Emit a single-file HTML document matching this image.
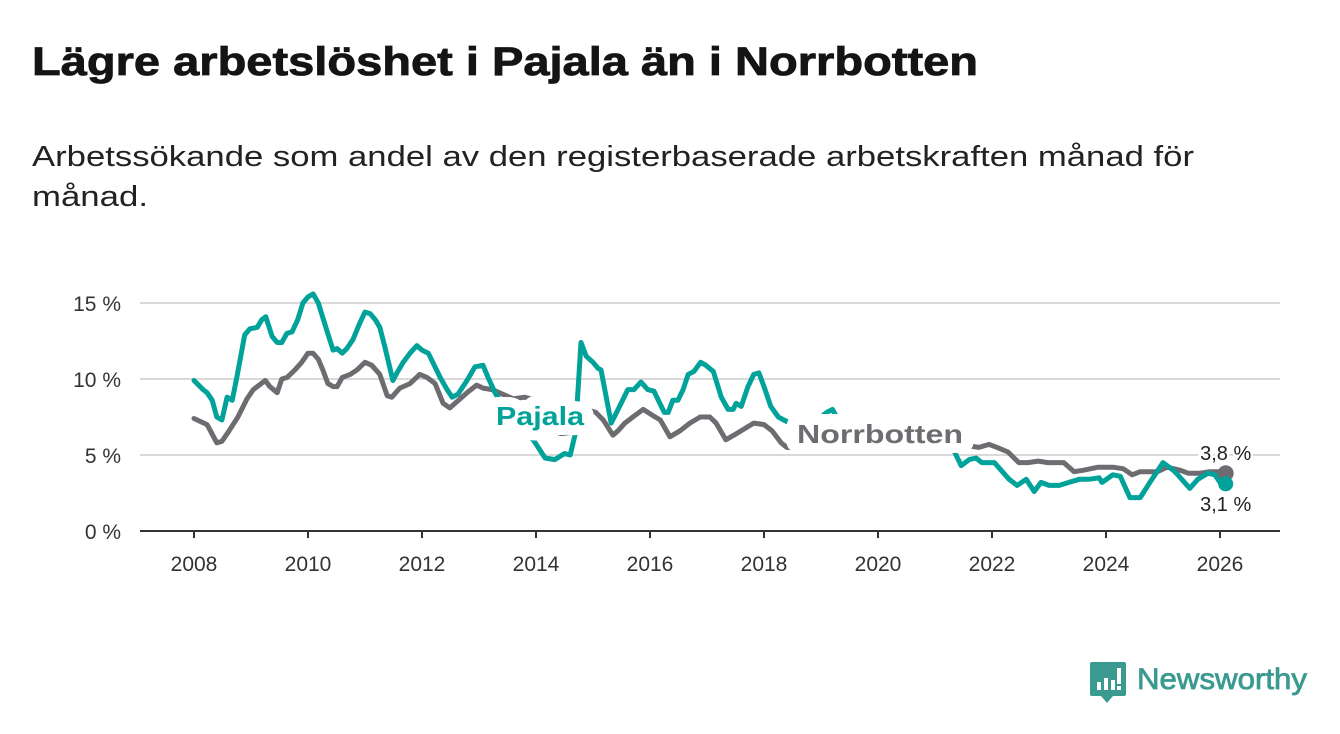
<!DOCTYPE html>
<html><head><meta charset="utf-8">
<style>
html,body{margin:0;padding:0;background:#fff;}
svg{display:block;font-family:"Liberation Sans",sans-serif;}
</style></head>
<body>
<svg id="chart" width="1340" height="734" viewBox="0 0 1340 734" xmlns="http://www.w3.org/2000/svg">
<text x="32" y="75" font-size="40" font-weight="bold" fill="#141414" stroke="#141414" stroke-width="0.8" textLength="946" lengthAdjust="spacingAndGlyphs">Lägre arbetslöshet i Pajala än i Norrbotten</text>
<text x="32" y="166" font-size="29" fill="#222" textLength="1162" lengthAdjust="spacingAndGlyphs">Arbetssökande som andel av den registerbaserade arbetskraften månad för</text>
<text x="32" y="206" font-size="29" fill="#222" textLength="116" lengthAdjust="spacingAndGlyphs">månad.</text>
<g id="grid"></g>
<g id="xaxis"></g>
<g id="yaxis"></g>
<g id="series"></g>
<g id="labels"></g>
<g>
  <path d="M1092 662 h32 a2 2 0 0 1 2 2 v30 a2 2 0 0 1 -2 2 h-11 l-6 7 l-6 -7 h-9 a2 2 0 0 1 -2 -2 v-30 a2 2 0 0 1 2 -2z" fill="#3a9a8f"/>
  <rect x="1097" y="682" width="4" height="8" fill="#fff"/>
  <rect x="1104" y="678" width="4" height="12" fill="#fff"/>
  <rect x="1111" y="680" width="4" height="10" fill="#fff"/>
  <rect x="1117" y="668" width="4" height="16" fill="#fff"/>
  <rect x="1117" y="686" width="4" height="4" fill="#fff"/>
  <text x="1137" y="689" font-size="30" fill="#3a9a8f" stroke="#3a9a8f" stroke-width="0.8" textLength="170" lengthAdjust="spacingAndGlyphs">Newsworthy</text>
</g>
</svg>
<script>
const yTicks = [0, 5, 10, 15];
const yTickLabels = ["0 %", "5 %", "10 %", "15 %"];
const xTicks = [2008, 2010, 2012, 2014, 2016, 2018, 2020, 2022, 2024, 2026];
const pajalaYears = [2008.0,2008.16,2008.23,2008.32,2008.40,2008.49,2008.58,2008.67,2008.75,2008.89,2008.98,2009.11,2009.19,2009.26,2009.37,2009.46,2009.54,2009.63,2009.72,2009.82,2009.91,2010.0,2010.09,2010.18,2010.33,2010.44,2010.51,2010.6,2010.68,2010.79,2010.91,2011.0,2011.09,2011.18,2011.26,2011.35,2011.49,2011.56,2011.67,2011.79,2011.91,2012.0,2012.11,2012.19,2012.32,2012.44,2012.53,2012.63,2012.79,2012.93,2013.07,2013.16,2013.28,2013.54,2013.95,2014.16,2014.33,2014.5,2014.6,2014.69,2014.79,2014.88,2015.0,2015.09,2015.14,2015.32,2015.44,2015.61,2015.72,2015.84,2015.96,2016.07,2016.16,2016.25,2016.32,2016.4,2016.49,2016.58,2016.67,2016.77,2016.89,2016.98,2017.11,2017.25,2017.37,2017.46,2017.51,2017.6,2017.72,2017.82,2017.91,2018.0,2018.12,2018.25,2018.35,2018.6,2018.9,2019.1,2019.2,2019.35,2019.6,2019.9,2020.2,2020.4,2020.7,2021.0,2021.2,2021.33,2021.46,2021.6,2021.72,2021.82,2021.95,2022.04,2022.16,2022.3,2022.44,2022.6,2022.74,2022.86,2023.0,2023.18,2023.35,2023.53,2023.7,2023.88,2023.93,2024.12,2024.25,2024.42,2024.6,2024.77,2025.0,2025.18,2025.26,2025.47,2025.61,2025.79,2025.91,2026.0,2026.05,2026.1];
const pajalaValues = [9.9,9.3,9.1,8.6,7.5,7.3,8.8,8.6,10.1,12.9,13.3,13.4,13.9,14.1,12.8,12.4,12.4,13.0,13.1,13.9,15.0,15.4,15.6,15.0,13.2,11.9,12.0,11.7,12.0,12.6,13.7,14.4,14.3,13.9,13.4,12.1,9.9,10.4,11.1,11.7,12.2,11.9,11.7,11.1,10.1,9.3,8.8,9.0,9.9,10.8,10.9,10.1,9.1,7.5,6.0,4.8,4.7,5.1,5.0,6.4,12.4,11.5,11.1,10.7,10.6,7.1,8.0,9.3,9.3,9.8,9.3,9.2,8.5,7.8,7.8,8.6,8.6,9.3,10.3,10.5,11.1,10.9,10.5,8.8,8.0,8.0,8.4,8.2,9.5,10.3,10.4,9.5,8.2,7.5,7.3,6.8,7.2,7.8,8.0,7.0,6.0,6.5,7.2,7.5,7.2,6.8,6.5,5.3,4.3,4.7,4.8,4.5,4.5,4.5,4.0,3.4,3.0,3.4,2.6,3.2,3.0,3.0,3.2,3.4,3.4,3.5,3.2,3.7,3.6,2.2,2.2,3.2,4.5,4.0,3.7,2.8,3.4,3.8,3.7,3.2,3.4,3.1];
const norrYears = [2008.0,2008.23,2008.4,2008.49,2008.6,2008.77,2008.93,2009.04,2009.25,2009.33,2009.46,2009.54,2009.63,2009.77,2009.89,2010.0,2010.09,2010.18,2010.26,2010.35,2010.44,2010.51,2010.6,2010.74,2010.86,2011.0,2011.12,2011.26,2011.39,2011.47,2011.61,2011.79,2011.96,2012.09,2012.23,2012.37,2012.49,2012.61,2012.79,2012.96,2013.07,2013.23,2013.6,2013.8,2014.0,2014.1,2014.25,2014.45,2014.65,2014.79,2015.05,2015.18,2015.35,2015.44,2015.56,2015.7,2015.88,2016.05,2016.18,2016.35,2016.53,2016.7,2016.88,2017.05,2017.16,2017.33,2017.47,2017.6,2017.82,2018.0,2018.14,2018.3,2018.4,2018.8,2019.2,2019.6,2020.0,2020.3,2020.6,2021.0,2021.33,2021.6,2021.77,2021.95,2022.09,2022.28,2022.47,2022.63,2022.81,2022.98,2023.12,2023.26,2023.44,2023.61,2023.86,2024.12,2024.3,2024.46,2024.6,2024.9,2025.07,2025.3,2025.44,2025.65,2025.82,2026.0,2026.1];
const norrValues = [7.4,7.0,5.8,5.9,6.5,7.5,8.7,9.3,9.9,9.5,9.1,10.0,10.1,10.6,11.1,11.7,11.7,11.3,10.6,9.7,9.5,9.5,10.1,10.3,10.6,11.1,10.9,10.3,8.9,8.8,9.4,9.7,10.3,10.1,9.7,8.4,8.1,8.5,9.1,9.6,9.4,9.3,8.7,8.8,8.6,8.0,6.6,6.4,6.5,8.1,7.8,7.3,6.3,6.6,7.1,7.5,8.0,7.6,7.3,6.2,6.6,7.1,7.5,7.5,7.1,6.0,6.3,6.6,7.1,7.0,6.6,5.8,5.5,5.4,5.7,5.5,5.8,6.5,6.2,5.8,5.3,5.6,5.5,5.7,5.5,5.2,4.5,4.5,4.6,4.5,4.5,4.5,3.9,4.0,4.2,4.2,4.1,3.7,3.9,3.9,4.2,4.0,3.8,3.8,3.9,3.9,3.8];
const lastLabels = ["3,8 %", "3,1 %"];

const NS = "http://www.w3.org/2000/svg";
const X0 = 194, PXY = 57, Y0 = 531, PXP = 15.2;
function xs(yr){ return X0 + (yr - 2008) * PXY; }
function ys(v){ return Y0 - v * PXP; }
function mk(tag, attrs, parent){ const e = document.createElementNS(NS, tag); for (const k in attrs) e.setAttribute(k, attrs[k]); parent.appendChild(e); return e; }

const grid = document.getElementById('grid');
const yaxis = document.getElementById('yaxis');
yTicks.forEach((t, i) => {
  if (t > 0) {
    const l = mk('line', {x1: 140, x2: 1280, y1: ys(t), y2: ys(t), stroke: '#d9d9d9', 'stroke-width': 2}, grid);
    
    
  }
  const tx = mk('text', {x: 121, y: ys(t) + 8, 'font-size': 21, fill: '#333', 'text-anchor': 'end'}, yaxis);
  tx.textContent = yTickLabels[i];
  
  
});
const xaxis = document.getElementById('xaxis');
const ax = mk('line', {x1: 140, x2: 1280, y1: Y0, y2: Y0, stroke: '#333', 'stroke-width': 2}, xaxis);


xTicks.forEach(t => {
  const tk = mk('line', {x1: xs(t), x2: xs(t), y1: Y0, y2: Y0 + 7, stroke: '#333', 'stroke-width': 2}, xaxis);
  
  
  const tx = mk('text', {x: xs(t), y: 571, 'font-size': 21, fill: '#333', 'text-anchor': 'middle'}, xaxis);
  tx.textContent = t;
  
  
});

const series = document.getElementById('series');
function drawLine(years, vals, color, name){
  const d = years.map((y, i) => (i ? 'L' : 'M') + xs(y).toFixed(1) + ' ' + ys(vals[i]).toFixed(1)).join(' ');
  const p = mk('path', {d: d, fill: 'none', stroke: color, 'stroke-width': 5, 'stroke-linejoin': 'round', 'stroke-linecap': 'round'}, series);
  
  
  const n = years.length - 1;
  return [xs(years[n]), ys(vals[n])];
}
const nEnd = drawLine(norrYears, norrValues, '#6e6c70', 'norrbotten-line');
const pEnd = drawLine(pajalaYears, pajalaValues, '#00a29a', 'pajala-line');

const labels = document.getElementById('labels');
const mask = mk('rect', {x: 796, y: 414, width: 158, height: 39, fill: '#fff'}, labels);


function label(txt, x, y, color, name, w){
  const t = mk('text', {x: x, y: y, 'font-size': 26, 'font-weight': 'bold', fill: color, stroke: '#fff', 'stroke-width': 20, 'stroke-linejoin': 'round', 'paint-order': 'stroke', textLength: w, lengthAdjust: 'spacingAndGlyphs'}, labels);
  t.textContent = txt;
  
  
}
label('Pajala', 496, 425, '#00a29a', 'pajala-label', 88);
label('Norrbotten', 797, 443, '#6e6c70', 'norrbotten-label', 166);
const c1 = mk('circle', {cx: nEnd[0], cy: nEnd[1], r: 8, fill: '#6e6c70'}, series);


const c2 = mk('circle', {cx: pEnd[0], cy: pEnd[1], r: 7.5, fill: '#00a29a'}, series);


function endLabel(txt, x, y, name){
  const t = mk('text', {x: x, y: y, 'font-size': 20, fill: '#222', 'text-anchor': 'middle', stroke: '#fff', 'stroke-width': 5, 'paint-order': 'stroke'}, labels);
  t.textContent = txt;
  
  
}
endLabel(lastLabels[0], nEnd[0], nEnd[1] - 13, 'norrbotten-last-value');
endLabel(lastLabels[1], pEnd[0], pEnd[1] + 27, 'pajala-last-value');
</script>
</body></html>
